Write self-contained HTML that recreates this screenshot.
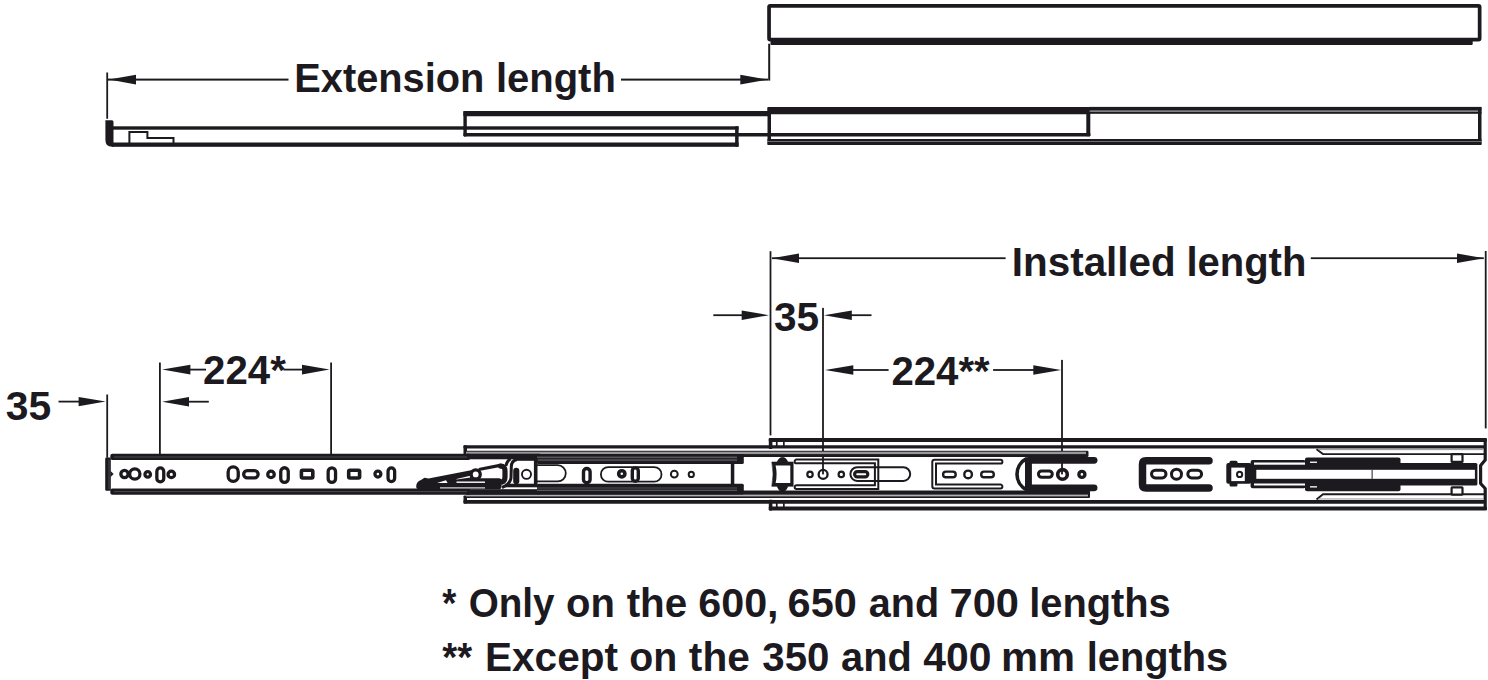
<!DOCTYPE html>
<html><head><meta charset="utf-8"><title>Drawer runner dimensions</title>
<style>
html,body{margin:0;padding:0;background:#fff;}
body{width:1488px;height:680px;overflow:hidden;}
svg{display:block;}
text{font-family:"Liberation Sans",sans-serif;font-weight:bold;font-size:40px;fill:#1c1a1f;}
</style></head><body>
<svg width="1488" height="680" viewBox="0 0 1488 680">
<rect width="1488" height="680" fill="#fff"/>
<g fill="#1c1a1f">
<rect x="769.05" y="5.85" width="710.6" height="33.8" rx="1.2" fill="none" stroke="#1c1a1f" stroke-width="3.7"/>
<rect x="770.50" y="40.00" width="702.20" height="5.00" rx="1" />
<rect x="106.30" y="72.50" width="1.80" height="46.30" />
<rect x="108.00" y="78.60" width="180.50" height="2.00" />
<rect x="621.00" y="78.60" width="147.00" height="2.00" />
<path d="M109 79.6 L136 74.7 L136 84.5 Z" fill="#1c1a1f" />
<path d="M767.8 79.6 L740.3 74.7 L740.3 84.5 Z" fill="#1c1a1f" />
<rect x="768.20" y="43.70" width="2.00" height="36.90" />
<path d="M105.4 120.3 H112 Q113.5 120.3 113.5 122 V146.8 H112 Q105.4 146.8 105.4 140 Z" fill="#1c1a1f" />
<rect x="112.00" y="126.30" width="626.60" height="3.40" />
<rect x="112.00" y="142.50" width="626.60" height="4.30" />
<rect x="735.10" y="126.30" width="3.50" height="20.50" rx="0.8" />
<path d="M129.4 143 V132 H147.4 V138 H173.5 V143" fill="none" stroke="#1c1a1f" stroke-width="2" />
<rect x="463.40" y="111.00" width="305.00" height="5.30" rx="0.8" />
<rect x="463.40" y="111.00" width="3.40" height="25.40" rx="0.8" />
<rect x="463.40" y="133.00" width="627.00" height="3.40" rx="0.8" />
<rect x="1086.30" y="110.00" width="4.00" height="26.30" rx="0.8" />
<rect x="767.50" y="106.90" width="322.00" height="7.40" rx="1" />
<rect x="1089.00" y="106.90" width="392.50" height="3.80" />
<rect x="1089.00" y="111.60" width="392.50" height="2.20" />
<rect x="1089.00" y="110.70" width="392.00" height="0.90" fill="#6e6e72" />
<rect x="767.50" y="106.90" width="3.50" height="38.00" rx="1" />
<rect x="1478.00" y="106.90" width="3.50" height="38.00" rx="1" />
<rect x="767.50" y="139.00" width="714.00" height="2.00" />
<rect x="767.50" y="141.00" width="714.00" height="1.00" fill="#6e6e72" />
<rect x="767.50" y="142.00" width="714.00" height="3.00" rx="0.8" />
<rect x="769.60" y="251.20" width="1.80" height="184.20" />
<rect x="1484.80" y="251.00" width="1.80" height="177.40" />
<rect x="772.00" y="257.30" width="233.60" height="1.80" />
<rect x="1310.80" y="257.30" width="173.00" height="1.80" />
<path d="M772 258.2 L799 253.5 L799 263 Z" fill="#1c1a1f" />
<path d="M1484 258.2 L1457 253.5 L1457 263 Z" fill="#1c1a1f" />
<rect x="713.30" y="314.30" width="30.00" height="1.80" />
<path d="M769 315.2 L741.7 310.4 L741.7 320 Z" fill="#1c1a1f" />
<rect x="850.00" y="314.30" width="21.50" height="1.80" />
<path d="M824 315.2 L851.8 310.4 L851.8 320 Z" fill="#1c1a1f" />
<rect x="822.10" y="307.90" width="1.80" height="166.50" />
<path d="M825 370 L853.3 365.2 L853.3 374.8 Z" fill="#1c1a1f" />
<rect x="852.00" y="369.10" width="36.60" height="1.80" />
<rect x="993.10" y="369.10" width="41.00" height="1.80" />
<path d="M1061.1 370 L1033.3 365.2 L1033.3 374.8 Z" fill="#1c1a1f" />
<rect x="1061.10" y="359.90" width="1.80" height="114.50" />
<rect x="159.00" y="362.50" width="1.80" height="97.00" />
<rect x="330.20" y="362.50" width="1.80" height="97.00" />
<path d="M162.2 369.6 L190.4 364.8 L190.4 374.4 Z" fill="#1c1a1f" />
<rect x="189.00" y="368.70" width="17.00" height="1.80" />
<rect x="283.50" y="368.70" width="20.00" height="1.80" />
<path d="M329.5 369.6 L302 364.8 L302 374.4 Z" fill="#1c1a1f" />
<path d="M162.2 401.7 L189 396.9 L189 406.5 Z" fill="#1c1a1f" />
<rect x="188.00" y="400.80" width="20.80" height="1.80" />
<rect x="58.50" y="400.70" width="21.00" height="1.80" />
<path d="M105.6 401.6 L78.6 397 L78.6 406.2 Z" fill="#1c1a1f" />
<rect x="106.30" y="394.50" width="1.80" height="63.20" />
<rect x="768.80" y="438.10" width="718.00" height="3.80" rx="1" />
<rect x="768.80" y="506.50" width="718.00" height="4.00" rx="1" />
<rect x="768.80" y="438.10" width="3.60" height="11.00" rx="0.8" />
<rect x="768.80" y="499.80" width="3.60" height="10.70" rx="0.8" />
<rect x="775.90" y="441.00" width="1.70" height="5.00" />
<rect x="783.00" y="441.00" width="1.70" height="5.00" />
<rect x="775.90" y="503.00" width="1.70" height="4.50" />
<rect x="783.00" y="503.00" width="1.70" height="4.50" />
<path d="M1485.2 438.5 V460 L1480.6 465.5 V483.5 L1485.2 488.5 V510" fill="none" stroke="#1c1a1f" stroke-width="3.2" stroke-linejoin="round"/>
<rect x="463.50" y="445.20" width="1021.00" height="3.40" rx="0.8" />
<rect x="463.50" y="500.00" width="1021.00" height="3.80" rx="0.8" />
<rect x="463.50" y="445.20" width="3.50" height="9.10" rx="0.8" />
<rect x="463.50" y="495.40" width="3.50" height="8.20" rx="0.8" />
<rect x="466.00" y="450.80" width="622.50" height="6.10" rx="1.2" />
<rect x="466.00" y="451.70" width="620.00" height="2.40" fill="#98979b" />
<rect x="466.00" y="490.60" width="624.00" height="7.40" rx="1" />
<rect x="466.00" y="494.60" width="622.00" height="1.80" fill="#aeb0b1" />
<rect x="105.20" y="457.60" width="5.60" height="33.20" rx="1.2" />
<rect x="108.60" y="459.50" width="0.80" height="29.50" fill="#58575b" />
<path d="M110.6 471 L113.6 474 L110.6 477 Z" fill="#1c1a1f" />
<rect x="110.30" y="453.70" width="360.00" height="6.30" rx="2" />
<rect x="114.00" y="456.60" width="356.00" height="0.80" fill="#58575b" />
<rect x="110.30" y="488.50" width="360.00" height="6.20" rx="2" />
<rect x="114.00" y="491.30" width="356.00" height="0.80" fill="#58575b" />
<rect x="467.00" y="453.70" width="73.00" height="5.60" />
<rect x="537.00" y="454.10" width="206.80" height="10.00" rx="1.5" />
<rect x="537.00" y="456.50" width="200.00" height="1.70" fill="#56555a" />
<rect x="537.00" y="459.10" width="200.00" height="2.00" fill="#4a4a4e" />
<rect x="467.00" y="489.20" width="73.00" height="5.40" />
<rect x="537.00" y="483.70" width="206.80" height="10.90" rx="1.5" />
<rect x="537.00" y="487.40" width="200.00" height="1.20" fill="#4a494d" />
<rect x="537.00" y="489.70" width="200.00" height="1.30" fill="#55585c" />
<rect x="730.80" y="463.50" width="3.50" height="21.00" />
<circle cx="124.5" cy="474" r="3.65" fill="none" stroke="#1c1a1f" stroke-width="3.3"/>
<circle cx="134.8" cy="474" r="5.15" fill="none" stroke="#1c1a1f" stroke-width="3.3"/>
<circle cx="147.7" cy="474.4" r="2.75" fill="none" stroke="#1c1a1f" stroke-width="3.3"/>
<rect x="156.85" y="467.95" width="6.90" height="13.90" rx="3.45" fill="none" stroke="#1c1a1f" stroke-width="3.3"/>
<circle cx="171.3" cy="474.4" r="3.25" fill="none" stroke="#1c1a1f" stroke-width="3.3"/>
<rect x="228.15" y="466.95" width="10.10" height="14.40" rx="5.00" fill="none" stroke="#1c1a1f" stroke-width="3.3"/>
<rect x="243.65" y="470.65" width="14.50" height="7.30" rx="3.65" fill="none" stroke="#1c1a1f" stroke-width="3.3"/>
<circle cx="271" cy="474.4" r="3.25" fill="none" stroke="#1c1a1f" stroke-width="3.3"/>
<rect x="280.75" y="467.75" width="7.50" height="14.70" rx="3.75" fill="none" stroke="#1c1a1f" stroke-width="3.3"/>
<rect x="301.40" y="470.30" width="11.40" height="7.70" rx="1.20" fill="none" stroke="#1c1a1f" stroke-width="3.6"/>
<rect x="328.15" y="467.95" width="7.40" height="14.50" rx="3.70" fill="none" stroke="#1c1a1f" stroke-width="3.3"/>
<rect x="348.70" y="470.30" width="10.90" height="7.70" rx="1.20" fill="none" stroke="#1c1a1f" stroke-width="3.6"/>
<circle cx="377.9" cy="474.1" r="2.95" fill="none" stroke="#1c1a1f" stroke-width="3.3"/>
<rect x="388.05" y="467.95" width="6.60" height="13.60" rx="3.30" fill="none" stroke="#1c1a1f" stroke-width="3.3"/>
<path d="M416.2 486.5 Q416.2 481.6 421 480 L424.5 477.8 L428.5 478.4 L471 470.2 L471 478.2 L499 478.2 Q501.5 478.3 501.5 481 L501.5 486.5 Q501.5 489.2 499 489.2 L419 489.2 Q416.2 489.2 416.2 486.5 Z" fill="#1c1a1f" />
<path d="M437 482.9 L446 480.3 L447.6 482.9 Z" fill="#fff" />
<path d="M456.5 478.9 L470.3 475.7 L470.3 477.6 L456.5 479.6 Z" fill="#fff" />
<rect x="456.50" y="481.50" width="28.50" height="1.40" fill="#fff" />
<rect x="440.00" y="487.40" width="45.00" height="1.00" fill="#fff" />
<circle cx="475.7" cy="474.4" r="4.55" fill="#fff" stroke="#1c1a1f" stroke-width="3.3"/>
<path d="M480 469.2 L500 465.4 Q503 465 503.5 467.5" fill="none" stroke="#1c1a1f" stroke-width="3.2" stroke-linecap="round"/>
<path d="M500.5 466.2 Q505 466 505 471 L505 477 Q505 481 502 482" fill="none" stroke="#1c1a1f" stroke-width="5.2" stroke-linecap="round"/>
<path d="M510.5 458.8 Q507 461 505.8 466" fill="none" stroke="#1c1a1f" stroke-width="3" />
<path d="M517 459.5 Q511.3 460.5 511.3 467 L511 478 Q510 484.3 502 487.5" fill="none" stroke="#1c1a1f" stroke-width="3" />
<rect x="515.00" y="458.00" width="22.50" height="2.80" />
<rect x="533.90" y="458.10" width="3.60" height="28.90" />
<rect x="505.00" y="483.70" width="32.50" height="3.60" />
<rect x="513.20" y="467.80" width="6.10" height="16.50" rx="3" />
<circle cx="526.5" cy="474.3" r="4.55" fill="none" stroke="#1c1a1f" stroke-width="1.9"/>
<path d="M537 465.2 H557.7 A8.1 8.1 0 0 1 557.7 481.4 H537" fill="none" stroke="#1c1a1f" stroke-width="1.8" />
<rect x="583.50" y="468.50" width="6.60" height="14.20" rx="3.30" fill="none" stroke="#1c1a1f" stroke-width="3.4"/>
<rect x="600.90" y="467.10" width="60.60" height="14.60" rx="7.30" fill="none" stroke="#1c1a1f" stroke-width="1.8"/>
<circle cx="621.8" cy="473.8" r="3.10" fill="none" stroke="#1c1a1f" stroke-width="3.6"/>
<rect x="632.30" y="467.90" width="6.00" height="13.40" rx="3.00" fill="none" stroke="#1c1a1f" stroke-width="3.4"/>
<circle cx="674.3" cy="474.2" r="3.40" fill="none" stroke="#1c1a1f" stroke-width="2"/>
<circle cx="691.3" cy="474.4" r="2.60" fill="none" stroke="#1c1a1f" stroke-width="2"/>
<path d="M771.8 462 H777 Q779 457.5 782.5 457.3 Q786 457.5 788 462 H793.2 V486.3 H788 Q786 491.5 782.5 491.6 Q779 491.5 777 486.3 H771.8 Q774.3 474 771.8 462 Z" fill="#1c1a1f" stroke="#1c1a1f" stroke-width="0.6" stroke-linejoin="round"/>
<path d="M775.6 465.6 H790.3 V483.1 H775.6 Q777.6 474.3 775.6 465.6 Z" fill="#fff" />
<path d="M796.5 459.6 H878.3 V488.9 H796.5 A1.85 1.85 0 0 1 796.5 485.2 H874.9 V463.3 H796.5 A1.85 1.85 0 0 1 796.5 459.6 Z" fill="none" stroke="#1c1a1f" stroke-width="2" />
<circle cx="810" cy="474.4" r="2.70" fill="none" stroke="#1c1a1f" stroke-width="2.2"/>
<circle cx="823.1" cy="474.4" r="4.45" fill="none" stroke="#1c1a1f" stroke-width="2.3"/>
<circle cx="841.3" cy="474.4" r="2.70" fill="none" stroke="#1c1a1f" stroke-width="2.2"/>
<rect x="850.40" y="467.20" width="59.80" height="13.70" rx="6.85" fill="none" stroke="#1c1a1f" stroke-width="2"/>
<rect x="854.60" y="471.60" width="13.20" height="5.20" rx="2.60" fill="none" stroke="#1c1a1f" stroke-width="3.2"/>
<path d="M1000.5 459.8 H934.5 Q932.3 459.8 932.3 462 V486.2 Q932.3 488.4 934.5 488.4 H1000.5 A1.9 1.9 0 0 0 1000.5 484.6 H936 V463.6 H1000.5 A1.9 1.9 0 0 0 1000.5 459.8 Z" fill="none" stroke="#1c1a1f" stroke-width="2" />
<rect x="943.10" y="471.60" width="12.60" height="5.60" rx="2.80" fill="none" stroke="#1c1a1f" stroke-width="2.4"/>
<circle cx="968.1" cy="474.4" r="3.80" fill="none" stroke="#1c1a1f" stroke-width="2.4"/>
<rect x="981.20" y="471.60" width="12.60" height="5.60" rx="2.80" fill="none" stroke="#1c1a1f" stroke-width="2.4"/>
<path d="M1027 458.5 A17.4 17.4 0 0 0 1027 490" fill="none" stroke="#1c1a1f" stroke-width="3.6" />
<rect x="1025.00" y="458.50" width="6.90" height="31.00" />
<rect x="1025.00" y="456.90" width="72.50" height="6.85" rx="3.4" />
<rect x="1025.00" y="484.40" width="72.50" height="6.85" rx="3.4" />
<rect x="1038.40" y="470.90" width="13.90" height="6.40" rx="3.20" fill="none" stroke="#1c1a1f" stroke-width="3"/>
<circle cx="1062.5" cy="474.4" r="4.80" fill="none" stroke="#1c1a1f" stroke-width="3.6"/>
<circle cx="1081.9" cy="474.4" r="3.00" fill="none" stroke="#1c1a1f" stroke-width="3.4"/>
<path d="M1209 460.7 H1146 Q1142.5 460.7 1142.5 464.2 V484.5 Q1142.5 488 1146 488 H1209" fill="none" stroke="#1c1a1f" stroke-width="7.5" stroke-linecap="round"/>
<rect x="1151.50" y="470.25" width="14.50" height="7.65" rx="3.82" fill="none" stroke="#1c1a1f" stroke-width="3"/>
<circle cx="1176.5" cy="474.2" r="5.00" fill="none" stroke="#1c1a1f" stroke-width="3"/>
<rect x="1187.80" y="470.25" width="13.80" height="7.65" rx="3.82" fill="none" stroke="#1c1a1f" stroke-width="3"/>
<rect x="1226.30" y="463.10" width="25.00" height="20.70" rx="2" />
<rect x="1229.50" y="460.80" width="8.00" height="4.00" rx="1.5" />
<rect x="1229.50" y="482.50" width="8.00" height="4.00" rx="1.5" />
<rect x="1231.30" y="467.60" width="13.50" height="13.50" fill="#fff" />
<circle cx="1239.6" cy="474.4" r="2.60" fill="none" stroke="#1c1a1f" stroke-width="2"/>
<rect x="1250.60" y="460.00" width="55.00" height="28.20" rx="2" />
<rect x="1254.00" y="462.50" width="52.00" height="2.20" fill="#fff" />
<rect x="1254.00" y="483.50" width="52.00" height="2.00" fill="#fff" />
<rect x="1305.00" y="457.50" width="95.50" height="33.80" rx="2" />
<rect x="1398.00" y="463.00" width="79.40" height="22.60" rx="1.5" />
<rect x="1256.30" y="469.80" width="218.60" height="9.00" fill="#fff" />
<rect x="1371.60" y="469.80" width="1.00" height="9.00" />
<rect x="1310.00" y="461.60" width="7.00" height="1.30" fill="#fff" />
<rect x="1310.00" y="486.20" width="7.00" height="1.30" fill="#fff" />
<path d="M1316.5 449.3 L1323 454.1 H1484 M1316.5 499.4 L1323 494.3 H1484" fill="none" stroke="#1c1a1f" stroke-width="1.9" />
<rect x="1318.00" y="449.20" width="166.00" height="0.90" fill="#8a898d" />
<rect x="1318.00" y="498.50" width="166.00" height="0.90" fill="#8a898d" />
<rect x="1451.60" y="454.10" width="10.90" height="7.80" rx="0.50" fill="#fff" stroke="#1c1a1f" stroke-width="2.2"/>
<rect x="1451.60" y="487.40" width="10.90" height="7.20" rx="0.50" fill="#fff" stroke="#1c1a1f" stroke-width="2.2"/>
<text x="294.32" y="91.7" textLength="190.03" lengthAdjust="spacingAndGlyphs">Extension</text>
<text x="495.89" y="91.7">length</text>
<text x="1011.87" y="276.1" textLength="163.82" lengthAdjust="spacingAndGlyphs">Installed</text>
<text x="1186.39" y="276.1">length</text>
<text x="773.99" y="330.7" textLength="45.14" lengthAdjust="spacingAndGlyphs">35</text>
<text x="891.40" y="385.3" textLength="98.28" lengthAdjust="spacingAndGlyphs">224**</text>
<text x="203.10" y="384.2" textLength="82.72" lengthAdjust="spacingAndGlyphs">224*</text>
<text x="5.78" y="420.4" textLength="45.45" lengthAdjust="spacingAndGlyphs">35</text>
<text x="442.35" y="616.8" textLength="14.07" lengthAdjust="spacingAndGlyphs">*</text>
<text x="468.67" y="616.8" textLength="85.94" lengthAdjust="spacingAndGlyphs">Only</text>
<text x="566.00" y="616.8">on</text>
<text x="626.69" y="616.8" textLength="60.52" lengthAdjust="spacingAndGlyphs">the</text>
<text x="698.24" y="616.8" textLength="80.31" lengthAdjust="spacingAndGlyphs">600,</text>
<text x="787.63" y="616.8" textLength="69.19" lengthAdjust="spacingAndGlyphs">650</text>
<text x="868.71" y="616.8" textLength="70.39" lengthAdjust="spacingAndGlyphs">and</text>
<text x="949.52" y="616.8" textLength="69.40" lengthAdjust="spacingAndGlyphs">700</text>
<text x="1029.22" y="616.8" textLength="141.51" lengthAdjust="spacingAndGlyphs">lengths</text>
<text x="442.30" y="670.6" textLength="29.83" lengthAdjust="spacingAndGlyphs">**</text>
<text x="484.96" y="670.6" textLength="133.02" lengthAdjust="spacingAndGlyphs">Except</text>
<text x="629.14" y="670.6" textLength="48.01" lengthAdjust="spacingAndGlyphs">on</text>
<text x="688.88" y="670.6" textLength="60.93" lengthAdjust="spacingAndGlyphs">the</text>
<text x="762.30" y="670.6" textLength="67.06" lengthAdjust="spacingAndGlyphs">350</text>
<text x="841.11" y="670.6" textLength="70.71" lengthAdjust="spacingAndGlyphs">and</text>
<text x="923.38" y="670.6" textLength="68.11" lengthAdjust="spacingAndGlyphs">400</text>
<text x="1001.08" y="670.6" textLength="74.05" lengthAdjust="spacingAndGlyphs">mm</text>
<text x="1086.72" y="670.6" textLength="141.51" lengthAdjust="spacingAndGlyphs">lengths</text>
</g>
</svg>
</body></html>
